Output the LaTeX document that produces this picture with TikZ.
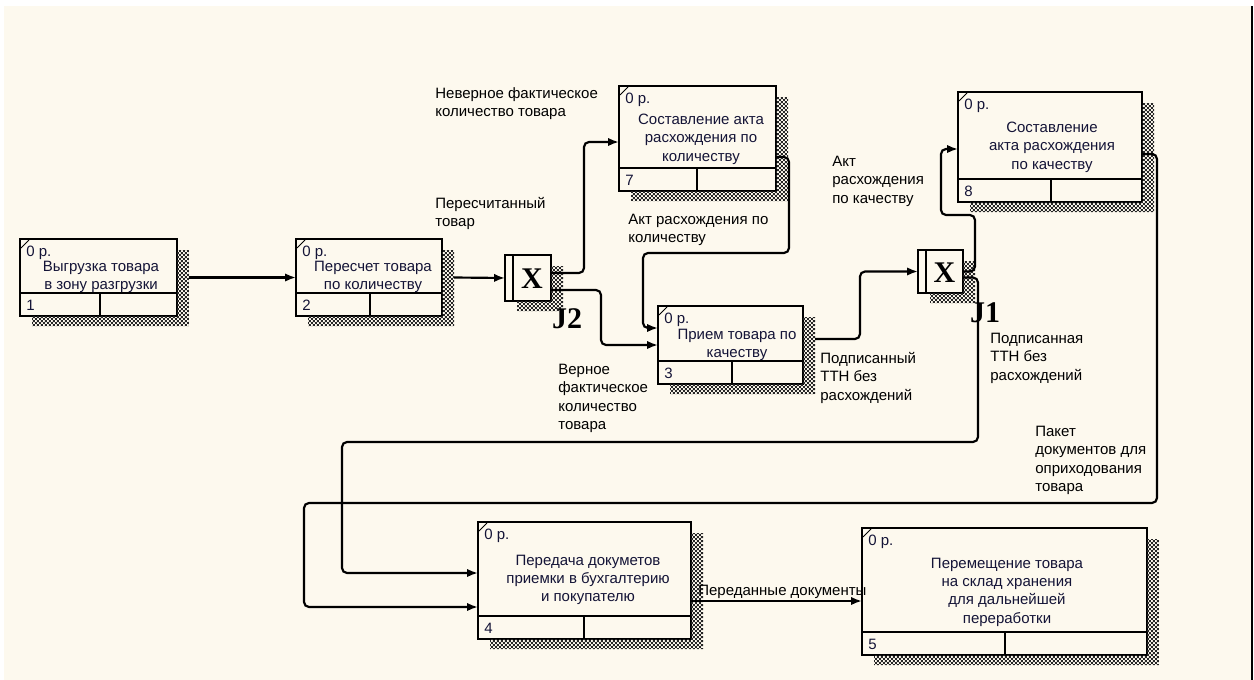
\documentclass[tikz,border=0pt]{standalone}
\usepackage{fontspec}
\setmainfont{Liberation Sans}
\newfontfamily\jserif{Liberation Serif}
\usetikzlibrary{calc,arrows.meta,patterns}
\definecolor{paper}{RGB}{253,249,238}
\definecolor{ink}{RGB}{20,20,55}
\pgfdeclarepatternformonly{checker}{\pgfpointorigin}{\pgfpoint{2.4pt}{2.4pt}}{\pgfpoint{2.4pt}{2.4pt}}{%
  \pgfpathrectangle{\pgfpointorigin}{\pgfpoint{1.2pt}{1.2pt}}%
  \pgfpathrectangle{\pgfpoint{1.2pt}{1.2pt}}{\pgfpoint{1.2pt}{1.2pt}}%
  \pgfusepath{fill}}
\tikzset{
  fbox/.style={draw, line width=1.3pt, fill=paper, anchor=north west, inner sep=0pt, outer sep=0pt},
  shade/.style={pattern=checker, pattern color=black!85},
  flow/.style={line width=1.3pt, rounded corners=3pt, -{Latex[length=6.5pt,width=5pt]}},
  lbl/.style={anchor=north west, align=left, inner sep=0pt, font=\fontsize{9}{11}\selectfont},
  ttl/.style={align=center, inner sep=0pt, text=ink, font=\fontsize{9}{11}\selectfont},
  jx/.style={inner sep=0pt, font=\jserif\bfseries\fontsize{18}{18}\selectfont},
}
\begin{document}
\begin{tikzpicture}[x=0.6pt, y=-0.6pt]
  \useasboundingbox (0,0) rectangle (1254,680);
  % sheet
  \fill[white] (0,0) rectangle (1254,680);
  \fill[paper] (4,6) rectangle (1251,680);
  \draw[line width=1pt] (1252,6) -- (1252,680);
  % function boxes
  \node[fbox, minimum width=94.2pt, minimum height=46.2pt] (b1) at (20,239) {};
  \node[fbox, minimum width=87.6pt, minimum height=46.2pt] (b2) at (296,239) {};
  \node[fbox, minimum width=94.2pt, minimum height=63pt] (b7) at (619,86) {};
  \node[fbox, minimum width=87pt, minimum height=46.8pt] (b3) at (658,306) {};
  \node[fbox, minimum width=110.4pt, minimum height=66pt] (b8) at (958,92) {};
  \node[fbox, minimum width=127.8pt, minimum height=70.2pt] (b4) at (478,522) {};
  \node[fbox, minimum width=171pt, minimum height=76.2pt] (b5) at (862,528) {};
  % junctions
  \node[fbox, minimum width=27.6pt, minimum height=27.6pt] (j2) at (505,255) {};
  \node[fbox, minimum width=27pt, minimum height=25.8pt] (j1) at (918,250) {};
  % shadows
  \foreach \n in {b1,b2,b7,b3,b8,b4,b5,j1,j2}
    \fill[shade] ($(\n.north east)+(0,11)$) -- ($(\n.north east)+(12,11)$) -- ($(\n.south east)+(12,10)$)
      -- ($(\n.south west)+(12,10)$) -- ($(\n.south west)+(12,0)$) -- (\n.south east) -- cycle;
  % compartments, cost and number
  \foreach \n/\dy/\dx/\k in {b1/54/80/1, b2/54/74/2, b7/82/78/7, b3/55/74/3, b8/87/93/8, b4/94/106/4, b5/104/143/5} {
    \draw[line width=1.3pt] ($(\n.north west)+(0,\dy)$) -- ($(\n.north east)+(0,\dy)$);
    \draw[line width=1.3pt] ($(\n.north west)+(\dx,\dy)$) -- ($(\n.south west)+(\dx,0)$);
    \draw[line width=0.5pt] ($(\n.north west)+(1,9)$) -- ($(\n.north west)+(9,1)$);
    \node[lbl, text=ink] (c\n) at ($(\n.north west)+(6,7)$) {0 р.};
    \node[lbl, text=ink, anchor=base west] (k\n) at ($(\n.south west)+(6,-6)$) {\k};
  }
  % box titles
  \node[ttl] (t1) at (101,277) {Выгрузка товара\\в зону разгрузки};
  \node[ttl] (t2) at (373,277) {Пересчет товара\\по количеству};
  \node[ttl] (t7) at (701,139) {Составление акта\\расхождения по\\количеству};
  \node[ttl] (t3) at (737,345) {Прием товара по\\качеству};
  \node[ttl] (t8) at (1052,147) {Составление\\акта расхождения\\по качеству};
  \node[ttl] (t4) at (588,580) {Передача докуметов\\приемки в бухгалтерию\\и покупателю};
  \node[ttl] (t5) at (1007,592) {Перемещение товара\\на склад хранения\\для дальнейшей\\переработки};
  % junction marks
  \draw[line width=1.3pt] ($(j2.north west)+(8,0)$) -- ($(j2.south west)+(8,0)$);
  \draw[line width=1.3pt] ($(j1.north west)+(8,0)$) -- ($(j1.south west)+(8,0)$);
  \node[jx] (x2) at ($(j2.center)+(4,1)$) {X};
  \node[jx] (x1) at ($(j1.center)+(4,1)$) {X};
  \node[jx] (n2) at ($(j2.south east)+(16,18)$) {J2};
  \node[jx] (n1) at ($(j1.south east)+(22,20)$) {J1};
  % flows
  \draw[flow] ($(b1.east)+(12,0)$) -- (b2.west);
  \draw[flow] ($(b2.east)+(12,0)$) -- (j2.west);
  \draw[flow] ($(j2.east)+(0,-5)$) -- ++(33,0) |- ($(b7.north west)+(0,56)$);
  \draw[flow] ($(j2.east)+(0,12)$) -- ++(50,0) |- ($(b3.north west)+(0,39)$);
  \draw[flow] ($(b7.north east)+(0,71)$) -- ++(13,0) |- ($(b3.north west)+(-15,-53)$) |- ($(b3.north west)+(0,22)$);
  \draw[flow] ($(b3.north east)+(12,33)$) -- ++(45,0) |- (j1.west);
  \draw[flow] (j1.east) -- ++(12,0) |- ($(b8.north west)+(-17,123)$) |- ($(b8.north west)+(0,57)$);
  \draw[flow] ($(j1.east)+(0,6)$) -- ++(15,0) |- ($(b4.north west)+(-136,-80)$) |- ($(b4.north west)+(0,51)$);
  \draw[flow] ($(b8.north east)+(0,62)$) -- ++(15,0) |- ($(b4.north west)+(-174,-19)$) |- ($(b4.north west)+(0,85)$);
  \draw[flow] ($(b4.north east)+(0,79)$) coordinate (p4) -- (p4 -| b5.west);
  % arrow labels
  \node[lbl] (l1) at (435,87) {Неверное фактическое\\количество товара};
  \node[lbl] (l2) at (435,197) {Пересчитанный\\товар};
  \node[lbl] (l3) at (628,214) {Акт расхождения по\\количеству};
  \node[lbl] (l4) at (558,364) {Верное\\фактическое\\количество\\товара};
  \node[lbl] (l5) at (820,352) {Подписанный\\ТТН без\\расхождений};
  \node[lbl] (l6) at (832,156) {Акт\\расхождения\\по качеству};
  \node[lbl] (l7) at (990,333) {Подписанная\\ТТН без\\расхождений};
  \node[lbl] (l8) at (1035,426) {Пакет\\документов для\\оприходования\\товара};
  \node[lbl] (l9) at (698,585) {Переданные документы};
\end{tikzpicture}
\end{document}
